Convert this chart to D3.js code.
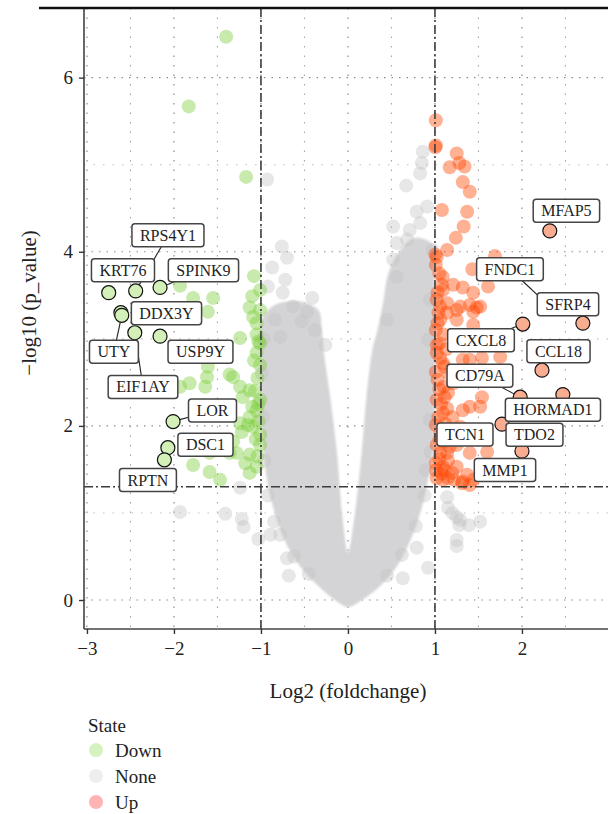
<!DOCTYPE html>
<html>
<head>
<meta charset="utf-8">
<script src="https://cdn.jsdelivr.net/npm/d3@7"></script>
<style>
  body { margin: 0; background: #fff; }
  text { font-family: "Liberation Serif", "DejaVu Serif", serif; fill: #222; }
</style>
</head>
<body>
<svg id="chart" width="608" height="814"></svg>
<script>
// ---- data (log2 fold change, -log10 p) ----
var xTicks = [-3, -2, -1, 0, 1, 2];
var yTicks = [0, 2, 4, 6];
var xMinor = [-2.5, -1.5, -0.5, 0.5, 1.5, 2.5];
var yMinor = [1, 3, 5];
var fcCut = [-1, 1];
var pCut = 1.301;

var states = ["Down", "None", "Up"];

// dense cloud of non-significant genes, outline of the V
var massOutline = [
  [-0.99, 3.22], [-1.00, 2.76], [-1.00, 2.30], [-0.98, 1.84], [-0.93, 1.38], [-0.85, 1.03],
  [-0.73, 0.69], [-0.56, 0.40], [-0.35, 0.17], [-0.15, 0.00], [0, -0.08],
  [0.16, 0.00], [0.38, 0.17], [0.57, 0.40], [0.72, 0.69], [0.84, 1.03], [0.93, 1.44],
  [0.99, 1.95], [1.00, 2.53], [1.00, 3.22], [0.99, 3.79], [0.98, 4.08],
  [0.77, 4.16], [0.60, 4.02], [0.46, 3.74], [0.41, 3.45], [0.34, 3.10], [0.28, 2.87], [0.21, 2.30],
  [0.16, 1.72], [0.07, 0.92], [0, 0.55],
  [-0.06, 0.92], [-0.13, 1.72], [-0.20, 2.30], [-0.28, 2.87], [-0.30, 3.10],
  [-0.34, 3.33], [-0.55, 3.43], [-0.84, 3.39]
];

// scattered non-significant genes outside / along the dense cloud
var nonePts = [
  [-0.93, 4.83], [0.86, 5.15], [0.85, 5.02], [0.83, 4.90], [0.67, 4.76], [0.79, 4.46], [0.91, 4.52],
  [0.83, 4.33], [0.52, 4.29], [0.68, 4.14], [0.56, 4.10], [0.71, 4.25], [0.97, 4.02],
  [-0.76, 4.06], [-0.70, 3.93], [-0.87, 3.82], [-0.72, 3.68], [-0.92, 3.60], [-0.75, 3.53],
  [-0.41, 3.47], [-0.63, 3.37], [-0.47, 3.31], [-0.84, 3.22], [-0.53, 3.20], [-0.38, 3.10],
  [-0.78, 3.02], [-0.26, 2.93], [0.45, 3.22], [0.56, 3.71], [0.52, 3.91], [0.94, 3.45],
  [0.92, 2.99], [0.94, 2.07], [0.89, 1.49],
  [-0.97, 3.00], [-0.99, 2.60], [-0.98, 2.10], [-0.96, 1.60], [-0.92, 1.20], [-0.85, 0.90],
  [-0.78, 0.75], [-0.62, 0.50], [-0.45, 0.30], [0.45, 0.28], [0.62, 0.52], [0.78, 0.85],
  [0.88, 1.20], [0.95, 1.70],
  [-1.93, 1.01], [-1.41, 0.99], [-1.22, 0.93], [-1.20, 0.84], [-1.03, 0.70], [-0.89, 0.75],
  [-0.68, 0.28], [-0.70, 0.48], [-1.24, 1.29],
  [0.92, 0.37], [1.15, 1.06], [1.25, 0.95], [1.28, 0.86], [1.39, 0.86], [1.25, 0.62],
  [0.79, 0.60], [0.63, 0.25], [1.14, 1.18], [1.20, 1.00], [1.29, 0.92], [1.52, 0.90], [1.25, 0.69]
];

var downPts = [
  [-1.40, 6.47], [-1.83, 5.67], [-1.17, 4.86], [-1.08, 3.72], [-1.93, 3.61], [-1.78, 3.47],
  [-1.55, 3.47], [-1.10, 3.49], [-1.61, 3.31], [-1.13, 3.36], [-1.01, 3.33], [-1.05, 3.18],
  [-1.24, 3.01], [-1.03, 2.97], [-1.05, 2.84], [-1.36, 2.59], [-1.61, 2.68], [-1.64, 2.45],
  [-1.82, 2.49], [-1.93, 2.45], [-1.24, 2.45], [-1.21, 2.33], [-1.13, 2.41], [-1.10, 2.22],
  [-1.13, 2.10], [-1.09, 1.99], [-1.15, 2.01], [-1.03, 2.05], [-1.22, 1.93], [-1.32, 1.82],
  [-1.01, 1.90], [-1.05, 2.18], [-1.13, 1.67], [-1.28, 1.69], [-1.18, 1.57], [-1.05, 1.53],
  [-1.59, 1.47], [-1.47, 1.38], [-1.13, 1.46], [-1.32, 2.56], [-1.62, 2.56], [-1.39, 2.16],
  [-1.24, 2.03], [-1.36, 1.69], [-1.59, 1.69], [-1.78, 1.55], [-1.09, 3.25], [-1.01, 2.95],
  [-1.01, 3.56], [-1.01, 2.70], [-1.01, 2.30], [-1.01, 1.78],
  [-1.04, 2.55], [-1.07, 2.40], [-1.03, 2.25], [-1.06, 1.85], [-1.04, 1.65], [-1.08, 2.75],
  [-1.05, 3.05]
];

var upPts = [
  [1.01, 5.51], [1.01, 5.22], [1.005, 5.20], [1.25, 5.13], [1.17, 4.97], [1.28, 5.02], [1.34, 4.98],
  [1.32, 4.80], [1.40, 4.69], [1.08, 4.48], [1.37, 4.46], [1.33, 4.29], [1.24, 4.16], [1.14, 4.02],
  [1.69, 3.95], [1.43, 3.80], [1.02, 3.94], [1.005, 3.97], [1.61, 3.60], [1.09, 3.71], [1.21, 3.62],
  [1.32, 3.59], [1.44, 3.53], [1.03, 3.53], [1.14, 3.41], [1.40, 3.39], [1.09, 3.56], [1.52, 3.37],
  [1.29, 3.37], [1.44, 3.31], [1.14, 3.30], [1.03, 3.18], [1.25, 3.22], [1.60, 3.02], [1.44, 3.16],
  [1.75, 2.79], [1.54, 2.78], [1.40, 2.76], [1.09, 2.72], [1.03, 2.53], [1.21, 2.49], [1.54, 2.33],
  [1.40, 2.22], [1.11, 2.33], [1.09, 2.15], [1.20, 2.10], [1.29, 1.99], [1.06, 1.92], [1.14, 1.69],
  [1.25, 1.78], [1.40, 1.69], [1.60, 1.70], [1.09, 1.53], [1.20, 1.46], [1.37, 1.44], [1.44, 1.38],
  [1.09, 1.38], [1.32, 1.36], [1.06, 3.37], [1.25, 3.33], [1.48, 3.36], [1.06, 3.22], [1.02, 2.84],
  [1.32, 2.76], [1.11, 2.68], [1.15, 2.38], [1.52, 2.22], [1.32, 2.18], [1.17, 1.76], [1.06, 1.69],
  [1.01, 1.57], [1.11, 1.49], [1.25, 1.53], [1.31, 1.34], [1.40, 1.32], [1.01, 3.85], [1.02, 3.45],
  [1.01, 3.10], [1.02, 2.93], [1.01, 2.62], [1.02, 2.30], [1.01, 2.01], [1.02, 1.78], [1.01, 1.49],
  [1.02, 1.40],
  [1.05, 3.75], [1.08, 3.62], [1.04, 3.30], [1.10, 3.05], [1.05, 2.95], [1.13, 2.88], [1.06, 2.78],
  [1.16, 2.60], [1.05, 2.42], [1.10, 2.45], [1.07, 2.25], [1.14, 2.20], [1.04, 2.10], [1.12, 2.02],
  [1.05, 1.85], [1.10, 1.82], [1.15, 1.60], [1.05, 1.62], [1.08, 1.45], [1.15, 1.40], [1.22, 1.38]
];

// labelled genes and where their labels sit
var genes  = ["KRT76", "RPS4Y1", "SPINK9", "DDX3Y", "UTY", "EIF1AY", "USP9Y", "LOR", "DSC1", "RPTN",
              "MFAP5", "FNDC1", "SFRP4", "CXCL8", "CCL18", "CD79A", "HORMAD1", "TCN1", "TDO2", "MMP1"];
var geneFC = [-2.75, -2.44, -2.16, -2.61, -2.60, -2.45, -2.16, -2.01, -2.07, -2.11,
              2.32, 2.30, 2.70, 2.01, 2.23, 1.98, 2.47, 1.77, 2.09, 2.00];
var geneP  = [3.53, 3.55, 3.59, 3.30, 3.27, 3.07, 3.03, 2.05, 1.75, 1.61,
              4.24, 3.39, 3.18, 3.17, 2.64, 2.33, 2.36, 2.02, 1.87, 1.71];
var labelFC = [-2.586, -2.069, -1.661, -2.086, -2.690, -2.356, -1.695, -1.557, -1.638, -2.299,
               2.511, 1.862, 2.529, 1.529, 2.420, 1.517, 2.356, 1.345, 2.144, 1.805];
var labelP  = [3.787, 4.190, 3.787, 3.293, 2.851, 2.448, 2.851, 2.178, 1.782, 1.379,
               4.471, 3.799, 3.397, 2.983, 2.856, 2.575, 2.184, 1.902, 1.897, 1.494];

// ---- drawing ----
var svg = d3.select("#chart");
var plotL = 84, plotR = 608, plotT = 8, plotB = 629;

var x = d3.scaleLinear().domain([-3.034, 2.989]).range([plotL, plotR]);
var y = d3.scaleLinear().domain([-0.333, 6.80]).range([plotB, plotT]);

var pointColor = { Down: "#7ccd3a", None: "#c4c4c4", Up: "#ff4500" };
var pointAlpha = { Down: 0.42, None: 0.4, Up: 0.42 };
var labelFill = { Down: "#d3f0b8", Up: "#f9ad90" };
var legendColor = { Down: "#d6f2bf", None: "#eeeeee", Up: "#ffb3b5" };
var r = 7;

// grid
var grid = svg.append("g");
grid.selectAll(".vmin").data(xMinor).join("line")
  .attr("x1", d => x(d)).attr("x2", d => x(d)).attr("y1", plotT).attr("y2", plotB)
  .attr("stroke", "#a9a3a6").attr("stroke-width", 1.1).attr("stroke-dasharray", "1.5,8");
grid.selectAll(".hmin").data(yMinor).join("line")
  .attr("x1", plotL).attr("x2", plotR).attr("y1", d => y(d)).attr("y2", d => y(d))
  .attr("stroke", "#c4bfc1").attr("stroke-width", 1.1).attr("stroke-dasharray", "1.5,8");
grid.selectAll(".vmaj").data(xTicks).join("line")
  .attr("x1", d => x(d)).attr("x2", d => x(d)).attr("y1", plotT).attr("y2", plotB)
  .attr("stroke", "#8f8a8c").attr("stroke-width", 1.2).attr("stroke-dasharray", "1.5,8");
grid.selectAll(".hmaj").data(yTicks).join("line")
  .attr("x1", plotL).attr("x2", plotR).attr("y1", d => y(d)).attr("y2", d => y(d))
  .attr("stroke", "#8f8a8c").attr("stroke-width", 1.2).attr("stroke-dasharray", "1.5,6");

// dense grey cloud
var defs = svg.append("defs");
defs.append("filter").attr("id", "soft")
  .append("feGaussianBlur").attr("stdDeviation", 1.2);
var outline = d3.line().x(d => x(d[0])).y(d => y(d[1])).curve(d3.curveCatmullRomClosed.alpha(0.5));
svg.append("path").datum(massOutline)
  .attr("d", outline).attr("fill", "#d4d3d5").attr("filter", "url(#soft)");

function drawPts(pts, state) {
  svg.append("g").selectAll("circle").data(pts).join("circle")
    .attr("cx", d => x(d[0])).attr("cy", d => y(d[1])).attr("r", r)
    .attr("fill", pointColor[state]).attr("fill-opacity", pointAlpha[state]);
}
drawPts(nonePts, "None");
drawPts(downPts, "Down");
drawPts(upPts, "Up");

// labelled points
var labelled = genes.map(function (g, i) {
  return { gene: g, fc: geneFC[i], p: geneP[i], lfc: labelFC[i], lp: labelP[i], state: geneFC[i] < 0 ? "Down" : "Up" };
});
svg.append("g").selectAll("circle").data(labelled).join("circle")
  .attr("cx", d => x(d.fc)).attr("cy", d => y(d.p)).attr("r", r)
  .attr("fill", d => labelFill[d.state]).attr("stroke", "#111").attr("stroke-width", 1.2);

// threshold lines
var cut = svg.append("g").attr("stroke", "#3d3d3d").attr("stroke-width", 1.6)
  .attr("stroke-dasharray", "9,3,2,3");
cut.selectAll(".v").data(fcCut).join("line")
  .attr("x1", d => x(d)).attr("x2", d => x(d)).attr("y1", plotT).attr("y2", plotB);
cut.append("line").attr("x1", plotL).attr("x2", plotR).attr("y1", y(pCut)).attr("y2", y(pCut));

// axes
var fmt = d3.format("d");
var xAxis = svg.append("g").attr("transform", `translate(0,${plotB})`)
  .call(d3.axisBottom(x).tickValues(xTicks).tickFormat(fmt).tickSize(5).tickSizeOuter(0).tickPadding(8));
var yAxis = svg.append("g").attr("transform", `translate(${plotL},0)`)
  .call(d3.axisLeft(y).tickValues(yTicks).tickFormat(fmt).tickSize(5).tickSizeOuter(0).tickPadding(6));
[xAxis, yAxis].forEach(function (a) {
  a.select(".domain").attr("stroke", "#444").attr("stroke-width", 1.6);
  a.selectAll(".tick line").attr("stroke", "#333").attr("stroke-width", 1.4);
  a.selectAll(".tick text").attr("font-size", 19).attr("fill", "#222")
    .style("font-family", '"Liberation Serif", serif');
});
yAxis.select(".domain").attr("d", `M0,${plotT}V${plotB}`);
xAxis.select(".domain").attr("d", `M${plotL},0H${plotR}`);

// top rule
svg.append("line").attr("x1", 39).attr("x2", 608).attr("y1", plotT).attr("y2", plotT)
  .attr("stroke", "#111").attr("stroke-width", 2.4);

// labels with segments
var lab = svg.append("g");
var padX = 8, boxH = 23;
labelled.forEach(function (d) {
  var cx = x(d.lfc), cy = y(d.lp);
  var t = lab.append("text").attr("x", cx).attr("y", cy).attr("dy", "0.35em")
    .attr("text-anchor", "middle").attr("font-size", 16).text(d.gene);
  var w = t.node().getComputedTextLength() + 2 * padX;
  t.remove();
  d.box = { x0: cx - w / 2, x1: cx + w / 2, y0: cy - boxH / 2, y1: cy + boxH / 2, w: w };
  // segment from point edge to box edge
  var px = x(d.fc), py = y(d.p);
  var dx = cx - px, dy = cy - py;
  var tx = dx !== 0 ? Math.abs((w / 2) / dx) : Infinity;
  var ty = dy !== 0 ? Math.abs((boxH / 2) / dy) : Infinity;
  var tEdge = 1 - Math.min(tx, ty, 1);
  var len = Math.sqrt(dx * dx + dy * dy);
  var visible = tEdge * len - r;
  if (visible > 6) {
    lab.append("line")
      .attr("x1", px + dx / len * r).attr("y1", py + dy / len * r)
      .attr("x2", px + dx * tEdge).attr("y2", py + dy * tEdge)
      .attr("stroke", "#222").attr("stroke-width", 1.1);
  }
});
labelled.forEach(function (d) {
  var b = d.box;
  lab.append("rect").attr("x", b.x0).attr("y", b.y0).attr("width", b.w).attr("height", boxH)
    .attr("rx", 3).attr("fill", "#fff").attr("stroke", "#444").attr("stroke-width", 1.5);
  lab.append("text").attr("x", (b.x0 + b.x1) / 2).attr("y", (b.y0 + b.y1) / 2).attr("dy", "0.35em")
    .attr("text-anchor", "middle").attr("font-size", 16).text(d.gene);
});

// axis titles
svg.append("text").attr("x", 348).attr("y", 698).attr("text-anchor", "middle")
  .attr("font-size", 21).text("Log2 (foldchange)");
svg.append("text").attr("transform", "translate(36,303) rotate(-90)").attr("text-anchor", "middle")
  .attr("font-size", 21).text("\u2212log10 (p_value)");

// legend
var leg = svg.append("g");
leg.append("text").attr("x", 88).attr("y", 732).attr("font-size", 19).text("State");
states.forEach(function (s, i) {
  var yy = 750 + i * 26;
  leg.append("circle").attr("cx", 96).attr("cy", yy).attr("r", 7).attr("fill", legendColor[s]);
  leg.append("text").attr("x", 115).attr("y", yy).attr("dy", "0.35em").attr("font-size", 19).text(s);
});
</script>
</body>
</html>
